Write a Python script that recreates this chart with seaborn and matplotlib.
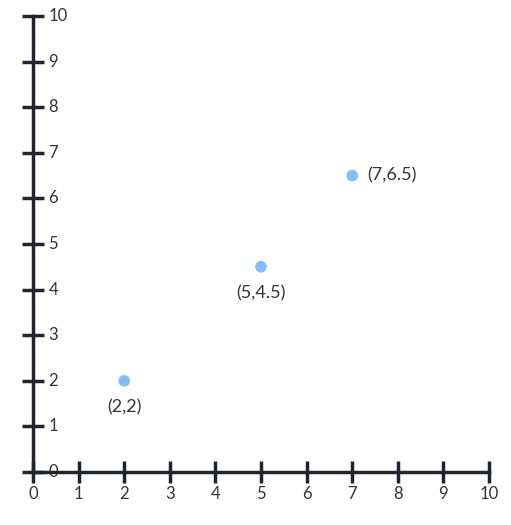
import matplotlib
matplotlib.use("Agg")
import matplotlib.pyplot as plt
import matplotlib.transforms as mtransforms
import seaborn as sns
import pandas as pd

xs = [2, 5, 7]
ys = [2, 4.5, 6.5]
labels = ["(2,2)", "(5,4.5)", "(7,6.5)"]
label_pos = ["below", "below", "right"]
ticks = list(range(0, 11))

sns.set_style("white")
plt.rcParams['font.family'] = ['Lato', 'DejaVu Sans']

fig = plt.figure(figsize=(5.11, 5.25), dpi=100)
ax = fig.add_axes([33 / 511, 53 / 525, (489 - 33) / 511, (472 - 16) / 525])

df = pd.DataFrame({"x": xs, "y": ys})
sns.scatterplot(data=df, x="x", y="y", ax=ax, color="#7fbfff", s=70,
                edgecolor="none", zorder=5, clip_on=False)

ax.set_xlim(0, 10)
ax.set_ylim(0, 10)
axis_col = "#21242c"
for side in ["top", "right"]:
    ax.spines[side].set_visible(False)
for side in ["left", "bottom"]:
    ax.spines[side].set_color(axis_col)
    ax.spines[side].set_linewidth(2.5)
    ax.spines[side].set_zorder(3)

ax.set_xticks(ticks)
ax.set_yticks(ticks)
ax.tick_params(axis="both", which="major", bottom=True, left=True,
               direction="inout", length=16, width=2.5, color=axis_col)
ax.tick_params(axis="x", labelsize=12, labelcolor="#333333", pad=2)
ax.set_yticklabels([])
ax.set_xlabel("")
ax.set_ylabel("")

tr = mtransforms.blended_transform_factory(ax.transAxes, ax.transData)
for t in ticks:
    ax.annotate(str(t), xy=(0, t), xycoords=tr, xytext=(11, 0),
                textcoords="offset points", fontsize=12, color="#333333",
                ha="left", va="center", zorder=2)

for x, y, lab, pos in zip(xs, ys, labels, label_pos):
    if pos == "below":
        ax.annotate(lab, xy=(x, y), xytext=(0, -19), textcoords="offset points",
                    ha="center", va="center", fontsize=13, color="#333333")
    else:
        ax.annotate(lab, xy=(x, y), xytext=(11, 0), textcoords="offset points",
                    ha="left", va="center", fontsize=13, color="#333333")

fig.savefig("out.png", dpi=100)
